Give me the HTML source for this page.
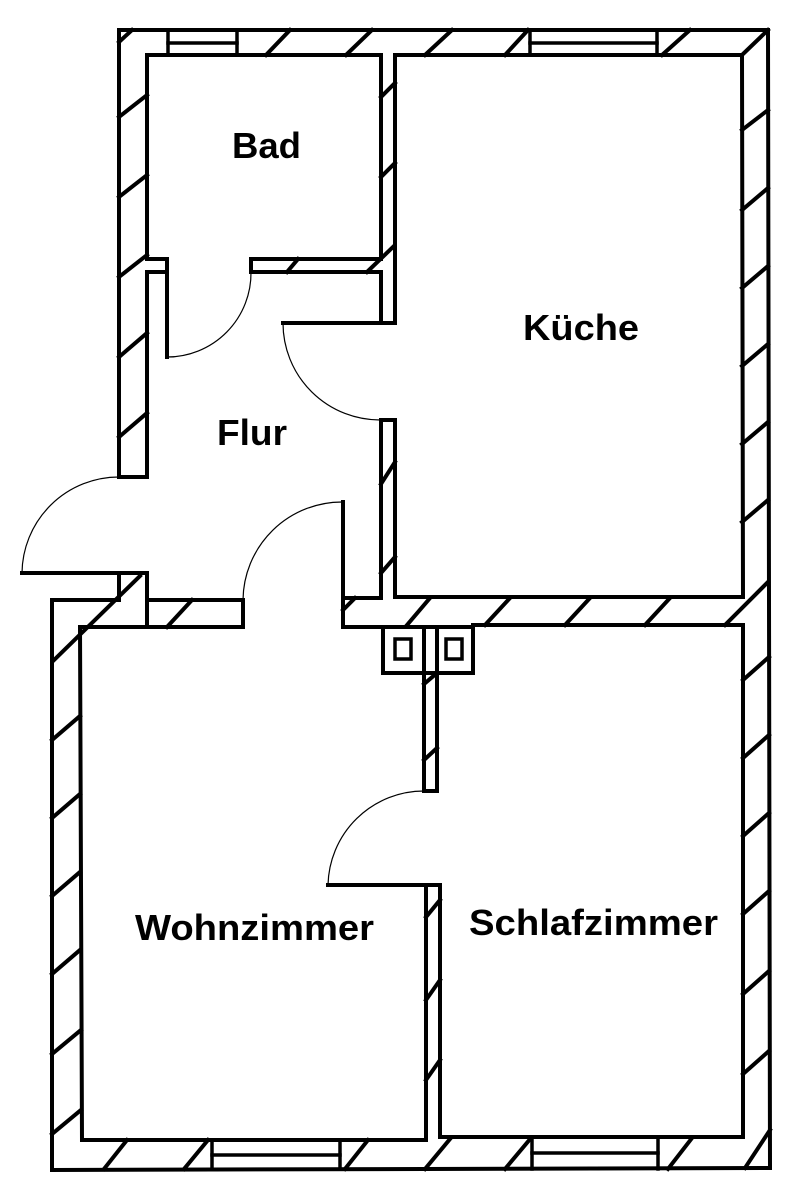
<!DOCTYPE html>
<html><head><meta charset="utf-8"><style>
html,body{margin:0;padding:0;background:#fff;}
svg{display:block;}
text{font-family:"Liberation Sans",Arial,sans-serif;font-weight:bold;fill:#000;}
</style></head><body>
<svg width="804" height="1200" viewBox="0 0 804 1200" xmlns="http://www.w3.org/2000/svg">
<g stroke="#000" stroke-width="4" fill="none" stroke-linecap="square">
<!-- outer outline -->
<polyline points="119,477 119,30 768,30 770,1168 52,1170 52,600 119,600 119,573"/>
<!-- entrance lines -->
<line x1="22" y1="573" x2="147" y2="573"/>
<line x1="147" y1="573" x2="147" y2="627"/>
<line x1="119" y1="477" x2="147" y2="477"/>
<!-- Bad -->
<polyline points="147,477 147,272 167,272"/>
<polyline points="147,259 147,55 381,55 381,259 251,259 251,272 381,272 381,323 283,323"/>
<polyline points="147,259 167,259 167,357"/>
<!-- Kueche -->
<polyline points="395,323 395,55 742,55 743,597 395,597 395,420 381,420 381,598 343,598 343,502"/>
<line x1="381" y1="323" x2="395" y2="323"/>
<!-- Kueche bottom wall outer / Schlafzimmer top -->
<polyline points="343,598 343,627 383,627"/>
<polyline points="473,625 743,625 743,1137 440,1137 440,885"/>
<!-- chimney -->
<rect x="383" y="627" width="90" height="46"/>
<line x1="424" y1="627" x2="424" y2="791"/>
<line x1="437" y1="627" x2="437" y2="791"/>
<line x1="424" y1="791" x2="437" y2="791"/>
<rect x="395" y="639" width="16" height="20" stroke-width="3.5"/>
<rect x="446" y="639" width="16" height="20" stroke-width="3.5"/>
<!-- Wohnzimmer -->
<polyline points="147,600 243,600 243,627 80,627 82,1140 426,1140 426,885 328,885"/>
<line x1="426" y1="885" x2="440" y2="885"/>
<!-- windows -->
<g stroke-width="3.5">
<line x1="168" y1="30" x2="168" y2="55"/><line x1="237" y1="30" x2="237" y2="55"/><line x1="168" y1="43" x2="237" y2="43"/>
<line x1="530" y1="30" x2="530" y2="55"/><line x1="657" y1="30" x2="657" y2="55"/><line x1="530" y1="43" x2="657" y2="43"/>
<line x1="212" y1="1140" x2="212" y2="1169"/><line x1="340" y1="1140" x2="340" y2="1169"/><line x1="212" y1="1155" x2="340" y2="1155"/>
<line x1="532" y1="1138" x2="532" y2="1169"/><line x1="658" y1="1138" x2="658" y2="1169"/><line x1="532" y1="1153" x2="658" y2="1153"/>
</g>
<!-- hatches -->
<g stroke-width="4">
<!-- top -->
<line x1="119" y1="42" x2="132" y2="30"/>
<line x1="266" y1="55" x2="290" y2="30"/><line x1="346" y1="55" x2="372" y2="30"/>
<line x1="425" y1="55" x2="452" y2="30"/><line x1="505" y1="55" x2="528" y2="30"/>
<line x1="662" y1="55" x2="690" y2="30"/><line x1="742" y1="55" x2="768" y2="30"/>
<!-- left upper -->
<line x1="119" y1="117" x2="147" y2="95"/><line x1="119" y1="197" x2="147" y2="175"/>
<line x1="119" y1="277" x2="147" y2="255"/><line x1="119" y1="357" x2="147" y2="333"/>
<line x1="119" y1="437" x2="147" y2="413"/>
<!-- right -->
<line x1="742" y1="130" x2="768" y2="110"/><line x1="742" y1="210" x2="768" y2="188"/>
<line x1="742" y1="288" x2="768" y2="266"/><line x1="742" y1="366" x2="768" y2="344"/>
<line x1="742" y1="444" x2="768" y2="422"/><line x1="742" y1="522" x2="768" y2="500"/>
<line x1="725" y1="625" x2="768" y2="582"/>
<line x1="743" y1="680" x2="769" y2="657"/><line x1="743" y1="758" x2="769" y2="735"/>
<line x1="743" y1="836" x2="769" y2="813"/><line x1="743" y1="914" x2="769" y2="891"/>
<line x1="743" y1="994" x2="769" y2="971"/><line x1="743" y1="1074" x2="769" y2="1051"/>
<line x1="745" y1="1168" x2="770" y2="1130"/>
<!-- Kueche bottom -->
<line x1="343" y1="610" x2="355" y2="598"/>
<line x1="407" y1="625" x2="430" y2="598"/><line x1="485" y1="625" x2="510" y2="598"/>
<line x1="565" y1="625" x2="590" y2="598"/><line x1="645" y1="625" x2="670" y2="598"/>
<!-- Wohnzimmer top / corner -->
<line x1="167" y1="627" x2="192" y2="600"/>
<line x1="54" y1="660" x2="140" y2="576"/>
<!-- left lower -->
<line x1="52" y1="740" x2="80" y2="716"/><line x1="52" y1="818" x2="80" y2="794"/>
<line x1="52" y1="896" x2="80" y2="872"/><line x1="52" y1="974" x2="80" y2="950"/>
<line x1="52" y1="1054" x2="81" y2="1030"/><line x1="52" y1="1134" x2="81" y2="1110"/>
<!-- bottom -->
<line x1="104" y1="1169" x2="127" y2="1140"/><line x1="184" y1="1169" x2="208" y2="1140"/>
<line x1="345" y1="1169" x2="368" y2="1140"/><line x1="425" y1="1169" x2="450" y2="1139"/>
<line x1="505" y1="1169" x2="531" y2="1138"/><line x1="668" y1="1169" x2="692" y2="1138"/>
<!-- Bad bottom & partitions -->
<line x1="287" y1="272" x2="298" y2="259"/><line x1="367" y1="272" x2="393" y2="247"/>
<line x1="381" y1="97" x2="395" y2="83"/><line x1="381" y1="177" x2="395" y2="163"/>
<line x1="381" y1="484" x2="395" y2="462"/><line x1="381" y1="573" x2="395" y2="557"/>
<line x1="424" y1="684" x2="437" y2="673"/><line x1="424" y1="760" x2="437" y2="748"/>
<line x1="426" y1="917" x2="440" y2="900"/><line x1="426" y1="1000" x2="440" y2="980"/>
<line x1="426" y1="1080" x2="440" y2="1060"/>
</g>
</g>
<!-- door arcs -->
<g stroke="#000" stroke-width="1.2" fill="none">
<path d="M167,357 A84,84 0 0 0 251,272"/>
<path d="M283,323 A97,97 0 0 0 381,420"/>
<path d="M22,573 A97,97 0 0 1 119,477"/>
<path d="M243,600 A99,99 0 0 1 343,502"/>
<path d="M328,885 A96,96 0 0 1 424,791"/>
</g>
<text x="232" y="158" font-size="36" textLength="69" lengthAdjust="spacingAndGlyphs">Bad</text>
<text x="523" y="340" font-size="36" textLength="116" lengthAdjust="spacingAndGlyphs">Küche</text>
<text x="217" y="445" font-size="36" textLength="70" lengthAdjust="spacingAndGlyphs">Flur</text>
<text x="135" y="940" font-size="36" textLength="239" lengthAdjust="spacingAndGlyphs">Wohnzimmer</text>
<text x="469" y="935" font-size="36" textLength="249" lengthAdjust="spacingAndGlyphs">Schlafzimmer</text>
</svg>
</body></html>
